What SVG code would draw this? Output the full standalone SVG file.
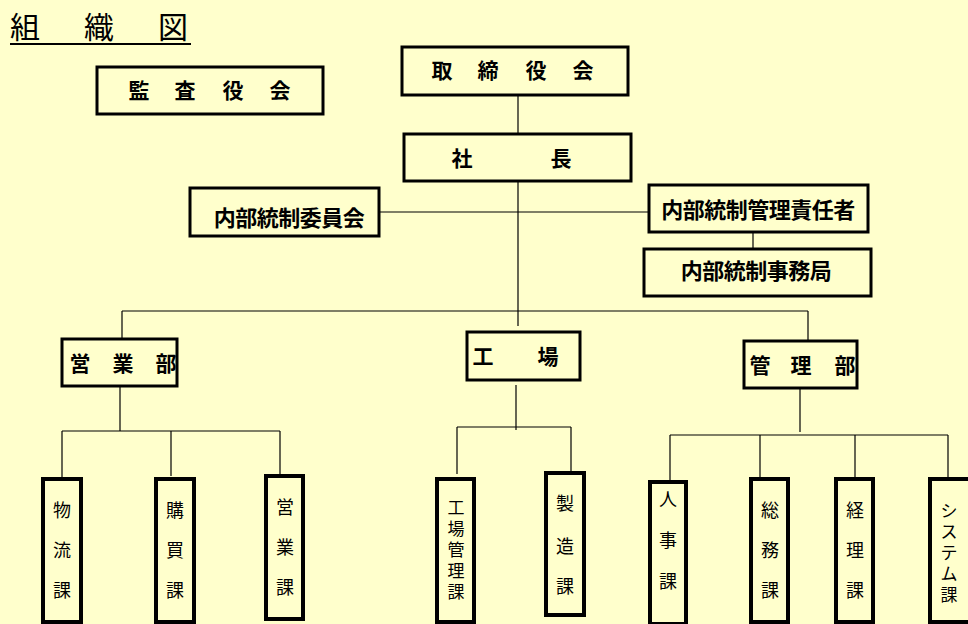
<svg xmlns="http://www.w3.org/2000/svg" width="968" height="624" viewBox="0 0 968 624">
<style>
text{font-family:"Noto Sans CJK JP",sans-serif;fill:#000}
.b{fill:none;stroke:#000;stroke-width:3}
.s{fill:none;stroke:#000;stroke-width:4}
.t{font-size:21px;font-weight:bold;text-anchor:middle}
.w{font-size:22px;font-weight:bold;text-anchor:middle;letter-spacing:-0.5px}
.v{font-size:18px;text-anchor:middle}
.n{font-size:17px;text-anchor:middle}
.c line{stroke:#000;stroke-width:1.2}
</style>
<rect width="968" height="624" fill="#FFFFCC"/>
<g id="title"><text font-size="30" y="38"><tspan x="10">組</tspan><tspan x="84">織</tspan><tspan x="158">図</tspan></text><line x1="10" y1="44" x2="191" y2="44" stroke="#000" stroke-width="2"/></g>
<g class="c">
<line x1="518" y1="95" x2="518" y2="134"/><line x1="518" y1="181" x2="518" y2="326"/>
<line x1="379" y1="212" x2="649" y2="212"/><line x1="753" y1="232" x2="753" y2="249"/>
<line x1="122" y1="311" x2="808" y2="311"/><line x1="122" y1="311" x2="122" y2="339"/><line x1="808" y1="311" x2="808" y2="341"/>
<line x1="120" y1="386" x2="120" y2="431"/><line x1="62" y1="431" x2="280" y2="431"/>
<line x1="62" y1="431" x2="62" y2="478"/><line x1="171" y1="431" x2="171" y2="476"/><line x1="280" y1="431" x2="280" y2="475"/>
<line x1="516" y1="385" x2="516" y2="430"/><line x1="457" y1="427" x2="571" y2="427"/>
<line x1="457" y1="427" x2="457" y2="474"/><line x1="571" y1="427" x2="571" y2="472"/>
<line x1="800" y1="388" x2="800" y2="432"/><line x1="670" y1="435" x2="948" y2="435"/>
<line x1="670" y1="435" x2="670" y2="481"/><line x1="760" y1="435" x2="760" y2="478"/><line x1="855" y1="435" x2="855" y2="478"/><line x1="948" y1="435" x2="948" y2="480"/>
</g>
<g id="kansa"><rect class="b" x="97" y="67" width="226" height="47"/><text class="t" y="98"><tspan x="139">監</tspan><tspan x="185">査</tspan><tspan x="233">役</tspan><tspan x="280">会</tspan></text></g>
<g id="torishimari"><rect class="b" x="402" y="47" width="226" height="48"/><text class="t" y="78"><tspan x="442">取</tspan><tspan x="488">締</tspan><tspan x="536">役</tspan><tspan x="583">会</tspan></text></g>
<g id="shacho"><rect class="b" x="404" y="134" width="227" height="47"/><text class="t" y="166"><tspan x="462">社</tspan><tspan x="561">長</tspan></text></g>
<g id="iinkai"><rect class="b" x="190" y="188" width="189" height="48"/><text class="w" x="289" y="226">内部統制委員会</text></g>
<g id="sekinin"><rect class="b" x="649" y="185" width="219" height="47"/><text class="w" x="758" y="218">内部統制管理責任者</text></g>
<g id="jimu"><rect class="b" x="644" y="249" width="227" height="47"/><text class="w" x="756" y="279">内部統制事務局</text></g>
<g id="eigyobu"><rect class="b" x="62" y="339" width="115" height="47"/><text class="t" y="371"><tspan x="80">営</tspan><tspan x="123">業</tspan><tspan x="166">部</tspan></text></g>
<g id="kojo"><rect class="b" x="467" y="332" width="113" height="48"/><text class="t" y="364"><tspan x="483">工</tspan><tspan x="548">場</tspan></text></g>
<g id="kanribu"><rect class="b" x="744" y="341" width="113" height="47"/><text class="t" y="373"><tspan x="760">管</tspan><tspan x="801">理</tspan><tspan x="845">部</tspan></text></g>
<g id="butsuryu"><rect class="s" x="43" y="479" width="38" height="143"/><text class="v" x="62"><tspan y="517">物</tspan><tspan x="62" y="557">流</tspan><tspan x="62" y="597">課</tspan></text></g>
<g id="kobai"><rect class="s" x="156" y="479" width="38" height="143"/><text class="v" x="175"><tspan y="517">購</tspan><tspan x="175" y="557">買</tspan><tspan x="175" y="597">課</tspan></text></g>
<g id="eigyoka"><rect class="s" x="266" y="476" width="37" height="143"/><text class="v" x="285"><tspan y="514">営</tspan><tspan x="285" y="554">業</tspan><tspan x="285" y="594">課</tspan></text></g>
<g id="kojokanri"><rect class="s" x="437" y="479" width="37" height="143"/><text class="n" x="456"><tspan y="514">工</tspan><tspan x="456" y="535">場</tspan><tspan x="456" y="556">管</tspan><tspan x="456" y="577">理</tspan><tspan x="456" y="598">課</tspan></text></g>
<g id="seizo"><rect class="s" x="546" y="473" width="38" height="142"/><text class="v" x="565"><tspan y="510">製</tspan><tspan x="565" y="553">造</tspan><tspan x="565" y="593">課</tspan></text></g>
<g id="jinji"><rect class="s" x="650" y="482" width="36" height="142"/><text class="v" x="668"><tspan y="506">人</tspan><tspan x="668" y="547">事</tspan><tspan x="668" y="588">課</tspan></text></g>
<g id="somu"><rect class="s" x="751" y="479" width="37" height="143"/><text class="v" x="770"><tspan y="517">総</tspan><tspan x="770" y="557">務</tspan><tspan x="770" y="597">課</tspan></text></g>
<g id="keiri"><rect class="s" x="836" y="479" width="37" height="143"/><text class="v" x="855"><tspan y="517">経</tspan><tspan x="855" y="557">理</tspan><tspan x="855" y="597">課</tspan></text></g>
<g id="system"><rect class="s" x="930" y="479" width="40" height="143"/><text class="n" x="949"><tspan y="517">シ</tspan><tspan x="949" y="538">ス</tspan><tspan x="949" y="559">テ</tspan><tspan x="949" y="580">ム</tspan><tspan x="949" y="601">課</tspan></text></g>
</svg>
